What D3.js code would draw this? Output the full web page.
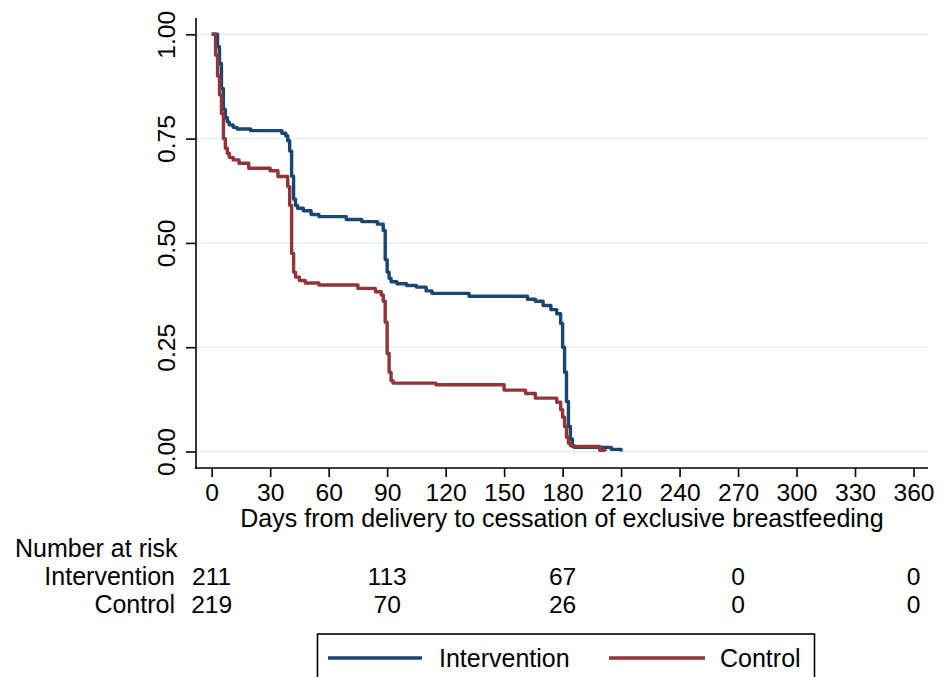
<!DOCTYPE html>
<html>
<head>
<meta charset="utf-8">
<script src="https://cdn.jsdelivr.net/npm/d3@7"></script>
<style>
  body { margin: 0; background: #fff; }
  text { font-family: "Liberation Sans", Arial, sans-serif; fill: #000; }
</style>
</head>
<body>
<div class="canvas"></div>
<script>
// Kaplan-Meier curves, values (step after each day)
const interventionDays = [0, 3, 4, 5, 6, 7, 8, 9, 11, 13, 20, 36, 38, 39, 40, 41, 42, 43, 44, 47, 51, 55, 69, 77, 85, 88, 89, 90, 91, 92, 95, 100, 105, 110, 113, 132, 162, 166, 170, 174, 177, 179, 180, 181, 182, 183, 184, 185, 186, 205, 210];
const interventionSurv = [1.0, 0.97, 0.93, 0.87, 0.82, 0.80, 0.79, 0.783, 0.777, 0.773, 0.769, 0.763, 0.757, 0.745, 0.72, 0.66, 0.605, 0.59, 0.583, 0.577, 0.568, 0.563, 0.556, 0.551, 0.545, 0.53, 0.46, 0.43, 0.415, 0.407, 0.402, 0.398, 0.394, 0.385, 0.379, 0.372, 0.365, 0.36, 0.35, 0.34, 0.33, 0.307, 0.25, 0.19, 0.12, 0.06, 0.03, 0.014, 0.01, 0.005, 0.0];

const controlDays = [0, 2, 3, 4, 5, 6, 7, 8, 9, 11, 14, 19, 30, 34, 39, 40, 41, 42, 43, 45, 48, 55, 75, 84, 87, 88, 89, 90, 91, 92, 93, 115, 150, 161, 166, 177, 179, 180, 181, 182, 183, 184, 185, 199, 202];
const controlSurv = [1.0, 0.95, 0.90, 0.855, 0.81, 0.75, 0.727, 0.715, 0.705, 0.699, 0.691, 0.679, 0.673, 0.659, 0.635, 0.59, 0.475, 0.43, 0.418, 0.41, 0.404, 0.399, 0.391, 0.383, 0.375, 0.36, 0.31, 0.235, 0.19, 0.17, 0.164, 0.16, 0.147, 0.139, 0.128, 0.118, 0.10, 0.082, 0.06, 0.034, 0.02, 0.014, 0.012, 0.003, 0.002];

const xTicks = [0, 30, 60, 90, 120, 150, 180, 210, 240, 270, 300, 330, 360];
const yTicks = [0, 0.25, 0.5, 0.75, 1];

// number at risk table
const riskDays = [0, 90, 180, 270, 360];
const riskGroups = ['Intervention', 'Control'];
const riskIntervention = [211, 113, 67, 0, 0];
const riskControl = [219, 70, 26, 0, 0];

const colors = { Intervention: '#1a476f', Control: '#90353b' };

const W = 945, H = 677;
const plot = { left: 196, right: 928, top: 18, bottom: 468 };
const numSize = 24.6, textSize = 25;

const svg = d3.select('.canvas')
    .append('svg')
    .attr('width', W)
    .attr('height', H);

svg.append('rect').attr('width', W).attr('height', H).attr('fill', '#fff');

const x = d3.scaleLinear().domain([0, 360]).range([211.7, 913.5]);
const y = d3.scaleLinear().domain([0, 1]).range([451.5, 34.3]);

// gridlines
svg.append('g')
    .selectAll('line')
    .data(yTicks)
    .join('line')
    .attr('x1', plot.left).attr('x2', plot.right)
    .attr('y1', d => y(d)).attr('y2', d => y(d))
    .attr('stroke', '#eaf2f3')
    .attr('stroke-width', 2);

// y axis
const yAxis = svg.append('g')
    .attr('transform', `translate(${plot.left},0)`)
    .call(d3.axisLeft(y).tickValues(yTicks).tickSize(10).tickFormat(d3.format('.2f')));
yAxis.select('.domain').remove();
yAxis.append('line')
    .attr('x1', 0).attr('x2', 0)
    .attr('y1', plot.top).attr('y2', plot.bottom + 1)
    .attr('stroke', '#000').attr('stroke-width', 1.6);
yAxis.selectAll('.tick line').attr('stroke-width', 1.6);
yAxis.selectAll('.tick text')
    .attr('x', null).attr('dy', null)
    .attr('transform', 'translate(-21,0) rotate(-90)')
    .attr('text-anchor', 'middle')
    .attr('font-size', numSize)
    .style('font-family', '"Liberation Sans", Arial, sans-serif');

// x axis
const xAxis = svg.append('g')
    .attr('transform', `translate(0,${plot.bottom})`)
    .call(d3.axisBottom(x).tickValues(xTicks).tickSize(9).tickFormat(d3.format('d')));
xAxis.select('.domain').remove();
xAxis.append('line')
    .attr('x1', plot.left - 0.8).attr('x2', plot.right)
    .attr('y1', 0).attr('y2', 0)
    .attr('stroke', '#000').attr('stroke-width', 1.6);
xAxis.selectAll('.tick line').attr('stroke-width', 1.6);
xAxis.selectAll('.tick text')
    .attr('y', 33).attr('dy', null)
    .attr('font-size', numSize)
    .style('font-family', '"Liberation Sans", Arial, sans-serif');

svg.append('text')
    .attr('x', (plot.left + plot.right) / 2)
    .attr('y', 527)
    .attr('text-anchor', 'middle')
    .attr('font-size', textSize)
    .text('Days from delivery to cessation of exclusive breastfeeding');

// survival curves
const line = d3.line()
    .x(d => x(d[0]))
    .y(d => y(d[1]))
    .curve(d3.curveStepAfter);

const series = [
    { name: 'Intervention', pts: d3.zip(interventionDays, interventionSurv) },
    { name: 'Control', pts: d3.zip(controlDays, controlSurv) }
];

svg.append('g')
    .selectAll('path')
    .data(series)
    .join('path')
    .attr('d', d => line(d.pts))
    .attr('fill', 'none')
    .attr('stroke', d => colors[d.name])
    .attr('stroke-width', 3.4)
    .attr('stroke-linejoin', 'round');

// number at risk
svg.append('text')
    .attr('x', 15).attr('y', 557)
    .attr('font-size', textSize)
    .text('Number at risk');

const riskRows = [riskIntervention, riskControl];
riskGroups.forEach((g, i) => {
    const yy = 585 + i * 28;
    svg.append('text')
        .attr('x', 175).attr('y', yy)
        .attr('text-anchor', 'end')
        .attr('font-size', textSize)
        .text(g);
    svg.append('g')
        .selectAll('text')
        .data(riskRows[i])
        .join('text')
        .attr('x', (d, j) => x(riskDays[j]))
        .attr('y', yy)
        .attr('text-anchor', 'middle')
        .attr('font-size', numSize)
        .text(d => d);
});

// legend
const legendGroup = svg.append('g');
legendGroup.append('rect')
    .attr('x', 317.5).attr('y', 634)
    .attr('width', 497).attr('height', 60)
    .attr('fill', 'none')
    .attr('stroke', '#000')
    .attr('stroke-width', 1.6);

const legendItems = [
    { name: 'Intervention', x1: 328, x2: 422, tx: 439 },
    { name: 'Control', x1: 609, x2: 705, tx: 720 }
];
legendItems.forEach(it => {
    legendGroup.append('line')
        .attr('x1', it.x1).attr('x2', it.x2)
        .attr('y1', 658).attr('y2', 658)
        .attr('stroke', colors[it.name])
        .attr('stroke-width', 3.4);
    legendGroup.append('text')
        .attr('x', it.tx).attr('y', 667)
        .attr('font-size', textSize)
        .text(it.name);
});
</script>
</body>
</html>
